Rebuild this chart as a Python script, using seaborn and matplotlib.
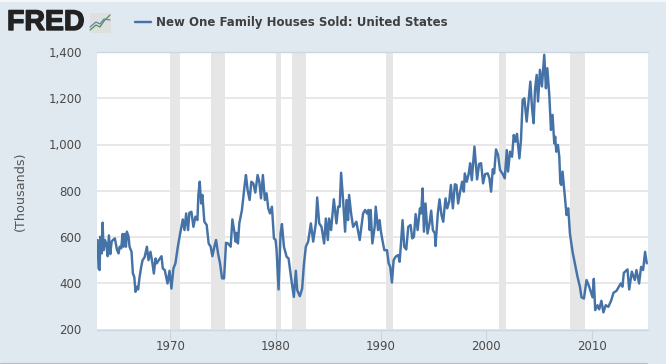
import matplotlib
matplotlib.use("Agg")
import matplotlib.pyplot as plt
import matplotlib.patheffects as pe
import seaborn as sns
import pandas as pd
from matplotlib.lines import Line2D
from matplotlib.patches import Rectangle

years_1960s = [1963.08,1963.17,1963.27,1963.33,1963.46,1963.55,1963.65,1963.77,1963.90,1964.03,1964.15,1964.28,1964.41,1964.53,1964.72,1964.91,1965.07,1965.17,1965.32,1965.45,1965.54,1965.64,1965.77,1965.86,1966.02,1966.11,1966.30,1966.43,1966.56,1966.68,1966.81,1966.93,1967.06,1967.22,1967.35,1967.54,1967.76,1967.91,1968.10,1968.29,1968.42,1968.58,1968.70,1968.93,1969.15,1969.27,1969.46,1969.72,1969.91]
sales_1960s = [587,464,457,601,529,662,543,587,572,517,607,526,580,587,594,546,529,558,551,613,558,613,558,623,601,558,536,442,428,363,385,373,425,471,500,512,558,500,536,486,442,507,486,503,517,464,457,399,454]

years_1970s = [1970.09,1970.28,1970.47,1970.70,1970.92,1971.17,1971.33,1971.49,1971.67,1971.80,1971.99,1972.18,1972.37,1972.56,1972.65,1972.78,1972.91,1973.03,1973.22,1973.44,1973.63,1973.82,1973.98,1974.17,1974.33,1974.52,1974.71,1974.90,1975.09,1975.28,1975.47,1975.72,1975.88,1976.07,1976.19,1976.29,1976.41,1976.54,1976.79,1977.05,1977.17,1977.33,1977.52,1977.68,1977.87,1978.06,1978.28,1978.44,1978.60,1978.78,1978.97,1979.13,1979.29,1979.45,1979.64,1979.83,1979.99]
sales_1970s = [377,464,486,558,615,676,630,702,630,705,709,644,688,673,782,839,745,782,666,652,572,558,517,558,587,529,486,421,421,575,572,558,676,623,580,618,572,659,717,825,868,803,760,839,832,792,868,839,767,868,760,789,724,702,731,594,587]

years_1980s = [1980.08,1980.27,1980.46,1980.59,1980.78,1981.03,1981.22,1981.47,1981.72,1981.91,1982.04,1982.29,1982.51,1982.67,1982.86,1983.08,1983.34,1983.56,1983.81,1983.94,1984.13,1984.35,1984.60,1984.76,1984.95,1985.07,1985.26,1985.52,1985.77,1985.93,1986.08,1986.21,1986.40,1986.59,1986.72,1986.87,1986.97,1987.16,1987.35,1987.66,1987.98,1988.30,1988.49,1988.67,1988.80,1988.93,1989.02,1989.18,1989.40,1989.50,1989.72,1989.87,1989.97]
sales_1980s = [543,373,615,656,558,515,507,421,341,454,370,344,377,478,558,580,659,580,659,771,659,644,572,680,587,680,630,763,659,731,731,878,760,623,760,673,782,702,644,666,587,702,717,702,717,630,717,572,644,731,630,673,630]

years_1990s = [1990.13,1990.32,1990.57,1990.73,1990.88,1991.04,1991.20,1991.39,1991.64,1991.77,1991.90,1992.05,1992.21,1992.40,1992.59,1992.81,1992.97,1993.13,1993.29,1993.48,1993.70,1993.82,1993.95,1994.08,1994.23,1994.42,1994.61,1994.77,1994.93,1995.12,1995.18,1995.40,1995.56,1995.75,1995.91,1996.13,1996.29,1996.48,1996.64,1996.83,1997.02,1997.17,1997.33,1997.52,1997.71,1997.87,1997.96,1998.15,1998.34,1998.47,1998.63,1998.88,1999.13,1999.32,1999.51,1999.70,1999.89]
sales_1990s = [587,543,543,486,471,403,500,515,522,493,572,673,558,546,644,652,594,601,699,630,724,702,810,623,745,615,659,714,630,615,561,702,763,695,666,767,724,753,825,724,828,825,745,796,839,796,875,839,875,919,846,991,849,916,919,832,872]

years_2000s = [2000.14,2000.30,2000.46,2000.62,2000.75,2000.93,2001.12,2001.31,2001.57,2001.76,2001.95,2002.07,2002.26,2002.45,2002.61,2002.77,2002.92,2003.15,2003.30,2003.46,2003.62,2003.84,2004.00,2004.19,2004.35,2004.50,2004.63,2004.79,2004.92,2005.10,2005.29,2005.51,2005.67,2005.80,2005.99,2006.15,2006.30,2006.46,2006.55,2006.65,2006.81,2006.94,2007.04,2007.13,2007.25,2007.44,2007.63,2007.79,2007.95,2008.20,2008.42,2008.67,2008.90,2009.05,2009.28,2009.53,2009.78]
sales_2000s = [875,854,796,893,875,979,955,890,872,854,976,883,969,947,1041,1012,1046,940,1020,1193,1200,1099,1178,1272,1157,1092,1236,1301,1186,1323,1251,1388,1243,1330,1214,1063,1128,1005,1034,969,998,947,832,825,883,789,695,724,615,536,486,428,385,339,334,414,385]

years_2010s = [2010.10,2010.22,2010.35,2010.57,2010.73,2010.94,2011.13,2011.35,2011.60,2011.86,2012.09,2012.37,2012.78,2012.94,2013.07,2013.42,2013.58,2013.83,2014.11,2014.27,2014.52,2014.71,2014.90,2015.09,2015.25]
sales_2010s = [339,419,284,305,287,324,274,305,298,324,359,367,399,385,445,460,373,450,414,457,399,471,457,536,486]

recession_start = [1969.92,1973.83,1980.0,1981.5,1990.5,2001.17,2007.92]
recession_end = [1970.88,1975.17,1980.5,1982.88,1991.17,2001.83,2009.42]
x_ticks = [1970,1980,1990,2000,2010]
y_ticks = [200,400,600,800,1000,1200,1400]
series_name = "New One Family Houses Sold: United States"
y_title = "(Thousands)"

df = pd.DataFrame({
    "year": years_1960s + years_1970s + years_1980s + years_1990s + years_2000s + years_2010s,
    "sold": sales_1960s + sales_1970s + sales_1980s + sales_1990s + sales_2000s + sales_2010s,
})

BG = "#E1E9F0"
W, H = 666, 364
LINE = "#4572A7"
TXT = "#4a4a4a"
sns.set_theme(style="white")
plt.rcParams["font.family"] = ["DejaVu Sans"]

fig = plt.figure(figsize=(W / 100, H / 100), dpi=100, facecolor=BG)
ax = fig.add_axes([97 / W, 1 - 329.5 / H, (647.5 - 97) / W, (329.5 - 52) / H], facecolor="white")

for s, e in zip(recession_start, recession_end):
    ax.axvspan(s, e, color="#E6E6E6", lw=0, zorder=1)
ax.yaxis.grid(True, color="#E4E4E4", lw=1.2, zorder=1.5)
ax.set_axisbelow(True)
sns.lineplot(data=df, x="year", y="sold", ax=ax, color=LINE, lw=1.75, sort=False,
             estimator=None, errorbar=None, zorder=3)

ax.set_xlim(1963.02, 2015.32)
ax.set_ylim(200, 1400)
ax.set_xticks(x_ticks)
ax.set_yticks(y_ticks)
ax.set_yticklabels([f"{v:,}" for v in y_ticks])
ax.set_xlabel("")
ax.set_ylabel("")
for name, sp in ax.spines.items():
    sp.set_visible(name in ("bottom", "top"))
    sp.set_color("#CBD7E3")
    sp.set_linewidth(1.0)
ax.tick_params(axis="x", length=7, width=0.8, color="#C8D4E0", labelsize=8.5, labelcolor=TXT, pad=0.5, bottom=True)
ax.tick_params(axis="y", length=0, labelsize=8.5, labelcolor=TXT, pad=11)

fig.text(20 / W, 1 - 191.5 / H, y_title, rotation=90, fontsize=9.2, color="#555555", ha="center", va="center")

# header: legend key and title
fig.add_artist(Line2D([135 / W, 151 / W], [1 - 22 / H] * 2, color=LINE, lw=1.75))
fig.text(156 / W, 1 - 22.5 / H, series_name, fontsize=8.5, fontweight="bold", color="#3f3f3f", ha="left", va="center")

# logo
logo = fig.text(7 / W, 1 - 23 / H, "FRED", fontsize=20.5, fontweight="bold", family="Liberation Sans", color="#222222", ha="left", va="center")
logo.set_path_effects([pe.withStroke(linewidth=1.0, foreground="#222222")])
fig.add_artist(Rectangle((90 / W, 1 - 33 / H), 21 / W, 20 / H, transform=fig.transFigure, facecolor="#DDE0DE", edgecolor="none"))
fig.add_artist(Line2D([90 / W, 96 / W, 100 / W, 104 / W, 110 / W], [1 - 30 / H, 1 - 25 / H, 1 - 27 / H, 1 - 21 / H, 1 - 15 / H], color="#4F8F58", lw=0.9))
fig.add_artist(Line2D([90 / W, 96 / W, 100 / W, 104 / W, 110 / W], [1 - 27 / H, 1 - 22 / H, 1 - 24 / H, 1 - 19 / H, 1 - 20 / H], color="#5C86A8", lw=0.9))

# page edges
fig.add_artist(Rectangle((0, 1 - 2 / H), 1, 2 / H, transform=fig.transFigure, facecolor="#F4F6F8", edgecolor="none"))
fig.add_artist(Line2D([0, 647 / W], [1 - 363 / H] * 2, color="#B8BEC4", lw=0.8))

fig.savefig("out.png", dpi=100, facecolor=BG)
